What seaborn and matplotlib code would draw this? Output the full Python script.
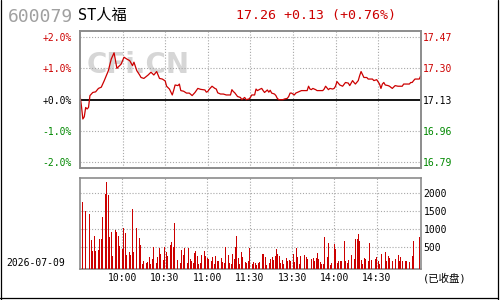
import matplotlib
matplotlib.use("Agg")
import matplotlib.pyplot as plt
import seaborn as sns
import pandas as pd
from matplotlib.lines import Line2D

# ---------------- data ----------------
stock_code = "600079"
stock_name = "ST人福"
date_label = "2026-07-09"
status_label = "(已收盘)"
base_price = 17.13
last_price = 17.26

time_ticks = [30, 60, 90, 120, 150, 180, 210]
time_labels = ["10:00", "10:30", "11:00", "11:30", "13:30", "14:00", "14:30"]
pct_ticks = [-2, -1, 0, 1, 2]
vol_ticks = [500, 1000, 1500, 2000]

price_t = [0, 1, 2, 3, 4, 5, 6, 7, 9, 11, 13, 15, 17, 20, 22, 24, 26, 27, 29, 31,
           33, 35, 37, 38, 40, 42, 43, 45, 48, 50, 52, 54, 56, 58, 60, 61, 63, 65, 66, 67,
           69, 70, 71, 73, 75, 77, 79, 81, 83, 85, 88, 89, 90, 91, 93, 95, 96, 97, 99, 101,
           103, 106, 107, 108, 109, 111, 113, 114, 116, 117, 119, 120, 121, 123, 124, 125, 127, 128, 129, 130,
           132, 133, 134, 135, 137, 138, 139, 140, 143, 144, 146, 147, 148, 149, 151, 152, 153, 154, 156, 158,
           160, 161, 162, 163, 164, 166, 167, 169, 171, 172, 173, 175, 176, 178, 179, 180, 181, 183, 185, 187,
           189, 190, 192, 193, 194, 196, 197, 198, 200, 202, 203, 206, 207, 209, 211, 212, 213, 214, 215, 217,
           218, 220, 222, 224, 225, 227, 228, 230, 232, 233, 234, 235, 236, 239, 240]
price_pct = [0.15, -0.20, -0.62, -0.55, -0.25, -0.30, -0.25, 0.13, 0.23, 0.25, 0.36, 0.40, 0.60, 0.93, 1.30, 1.50, 1.00, 1.05, 1.14, 1.36,
             1.30, 1.25, 1.09, 1.20, 0.93, 0.79, 0.71, 0.68, 0.79, 0.88, 0.79, 0.90, 0.68, 0.66, 0.60, 0.43, 0.34, 0.15, 0.30, 0.47,
             0.45, 0.50, 0.29, 0.27, 0.21, 0.21, 0.13, 0.23, 0.36, 0.33, 0.31, 0.24, 0.26, 0.33, 0.43, 0.36, 0.34, 0.22, 0.18, 0.18,
             0.15, 0.15, 0.32, 0.26, 0.22, 0.10, 0.07, 0.00, 0.07, 0.00, 0.02, 0.07, 0.15, 0.15, 0.34, 0.29, 0.34, 0.36, 0.29, 0.23,
             0.31, 0.24, 0.30, 0.21, 0.18, 0.13, 0.04, 0.00, 0.00, 0.02, 0.04, 0.10, 0.21, 0.21, 0.15, 0.21, 0.23, 0.25, 0.29, 0.29,
             0.29, 0.43, 0.34, 0.32, 0.36, 0.32, 0.29, 0.29, 0.29, 0.34, 0.43, 0.32, 0.36, 0.34, 0.36, 0.43, 0.58, 0.47, 0.43, 0.55,
             0.53, 0.45, 0.61, 0.55, 0.50, 0.61, 0.77, 0.90, 0.71, 0.71, 0.66, 0.66, 0.61, 0.64, 0.50, 0.36, 0.50, 0.55, 0.47, 0.45,
             0.43, 0.36, 0.45, 0.43, 0.43, 0.43, 0.50, 0.50, 0.50, 0.55, 0.55, 0.61, 0.66, 0.66, 0.76]

vol_t = ([0, 2, 4, 5, 7, 8, 9, 10, 11, 12, 13, 14, 15, 16, 17, 18, 19, 20, 21, 22,
          23, 24, 25, 26, 27, 28, 29, 30, 31, 32, 33, 34, 35, 36, 37, 38, 40, 41, 42, 43,
          44, 45, 46, 47, 48, 49, 50, 51, 52, 53, 54, 55, 56, 57, 58, 59, 60, 61, 62, 63,
          64, 65, 66, 67, 69, 70, 71, 72, 73, 74, 75, 76, 77]
         + list(range(78, 158))
         + [159, 160, 161, 162, 164, 165, 166, 167, 168, 169, 170, 171, 172, 173, 174, 175, 176, 177, 178, 179,
            180, 181, 182, 183, 184, 185, 187, 188, 189, 190, 191, 192, 194, 195, 196, 197, 198, 199, 200, 201,
            202, 203, 204, 205, 206, 208, 209, 210, 211, 212, 213, 215, 216, 217, 218, 219, 220, 221, 223, 225,
            226, 227, 228, 230, 231, 232, 233, 235, 236, 237, 240])
vol_v = [277, 1758, 1499, 990, 1425, 712, 406, 805, 406, 527, 434, 730, 730, 1332, 1610, 1980, 2314, 1944, 777, 925,
         249, 341, 990, 925, 805, 527, 1055, 462, 1036, 897, 277, 573, 369, 277, 1573, 369, 1036, 92, 758, 554,
         36, 129, 129, 64, 92, 221, 36, 184, 499, 184, 64, 240, 480, 314, 277, 156, 499, 369, 249, 499,
         573, 647, 499, 1175, 156, 156, 64, 434, 295, 480, 462, 64, 480,
         175, 129, 64, 341, 388, 249, 36, 64, 277, 184, 388, 249, 203, 175, 480, 129, 221, 36, 249, 129,
         129, 129, 203, 92, 64, 499, 249, 277, 64, 36, 314, 175, 499, 805, 203, 36, 369, 231, 175, 92,
         64, 129, 480, 20, 36, 92, 64, 10, 64, 92, 341, 314, 314, 221, 10, 406, 64, 175, 221, 156,
         249, 462, 314, 249, 64, 156, 36, 156, 203, 129, 156, 129, 406, 314, 92, 480, 221, 36, 249, 184,
         277, 221, 184, 64, 175, 203, 110, 203, 341, 175, 92, 36, 36, 777, 156, 231, 619, 18, 64, 92,
         592, 453, 64, 110, 110, 110, 666, 110, 64, 156, 36, 277, 175, 730, 730, 869, 666, 156, 36, 203,
         175, 619, 129, 619, 156, 10, 184, 221, 110, 36, 314, 221, 369, 129, 249, 203, 156, 129, 175, 277,
         110, 231, 110, 110, 129, 64, 92, 249, 666, 10, 777]

# ---------------- style ----------------
RED = "#cc0000"
GREEN = "#008800"
GRID = "#a8a8a8"
FRAME = "#8c8c8c"
sns.set_theme(style="white")
plt.rcParams["font.family"] = ["DejaVu Sans Mono", "Noto Sans CJK SC"]
plt.rcParams["axes.unicode_minus"] = False
FAM = ["DejaVu Sans Mono", "Noto Sans CJK SC"]

fig = plt.figure(figsize=(5, 3), dpi=100)
fig.patch.set_facecolor("white")

ax_p = fig.add_axes([0.16, 0.439, 0.6814, 0.4577])
ax_v = fig.add_axes([0.16, 0.1023, 0.6814, 0.3034])

price_df = pd.DataFrame({"t": price_t, "pct": price_pct})
vol_df = pd.DataFrame({"t": vol_t, "v": vol_v})

# ---- price panel ----
ax_p.text(0.17, 0.755, "CFi.CN", transform=ax_p.transAxes, ha="center", va="center",
          fontsize=20, fontweight="bold", color="#d6d6d6", family="DejaVu Sans", zorder=0)
for t in time_ticks:
    ax_p.axvline(t, color=GRID, lw=0.8, ls=(0, (1, 1.6)), zorder=1)
for p in pct_ticks:
    if p != 0:
        ax_p.axhline(p, color=GRID, lw=0.8, ls=(0, (1, 1.6)), zorder=1)
ax_p.axhline(0, color="black", lw=1.3, zorder=2)
sns.lineplot(data=price_df, x="t", y="pct", ax=ax_p, color=RED, lw=0.9, zorder=3)

ax_p.set_xlim(0, 240)
ax_p.set_ylim(-2.2, 2.2)
ax_p.set_xticks([])
ax_p.set_xlabel("")
ax_p.set_ylabel("")
ax_p.set_yticks(pct_ticks)
ax_p.set_yticklabels([f"{p:+.1f}%" for p in pct_ticks])
colors = [GREEN if p < 0 else ("black" if p == 0 else RED) for p in pct_ticks]
for lab, c in zip(ax_p.get_yticklabels(), colors):
    lab.set_color(c)
ax_p.tick_params(axis="y", length=0, pad=6, labelsize=7)

ax_r = ax_p.twinx()
ax_r.set_ylim(-2.2, 2.2)
ax_r.set_yticks(pct_ticks)
ax_r.set_yticklabels([f"{base_price * (1 + p / 100):.2f}" for p in pct_ticks])
for lab, c in zip(ax_r.get_yticklabels(), colors):
    lab.set_color(c)
ax_r.tick_params(axis="y", length=0, pad=1.5, labelsize=7)
ax_r.grid(False)

for a in (ax_p, ax_r):
    for s in a.spines.values():
        s.set_color(FRAME)
        s.set_linewidth(1.2)

# ---- volume panel ----
vmin, vmax = -111, 2417
for t in time_ticks:
    ax_v.axvline(t, color=GRID, lw=0.8, ls=(0, (1, 1.6)), zorder=1)
for v in vol_ticks:
    ax_v.axhline(v, color=GRID, lw=0.8, ls=(0, (1, 1.6)), zorder=1)
bar_df = vol_df.assign(h=vol_df["v"] - vmin)
sns.barplot(data=bar_df, x="t", y="h", ax=ax_v, native_scale=True, color=RED,
            saturation=1, width=0.6, errorbar=None, bottom=vmin, zorder=3,
            linewidth=0)
ax_v.set_xlim(0, 241)
ax_v.set_ylim(vmin, vmax)
ax_v.set_xlabel("")
ax_v.set_ylabel("")
ax_v.set_xticks(time_ticks)
ax_v.set_xticklabels(time_labels)
ax_v.yaxis.tick_right()
ax_v.set_yticks(vol_ticks)
ax_v.set_yticklabels([str(v) for v in vol_ticks])
ax_v.tick_params(axis="x", length=0, pad=3, labelsize=7, colors="black")
ax_v.tick_params(axis="y", length=0, pad=2, labelsize=7, colors="black")
for s in ax_v.spines.values():
    s.set_color(FRAME)
    s.set_linewidth(1.2)

# ---- texts ----
fig.text(8 / 500, 1 - 17 / 300, stock_code, fontsize=13, color="#a0a0a0",
         family=FAM, ha="left", va="center")
fig.text(78 / 500, 1 - 15 / 300, stock_name, fontsize=11, color="black",
         family=FAM, ha="left", va="center")
chg = last_price - base_price
fig.text(236 / 500, 1 - 15 / 300,
         f"{last_price:.2f} {chg:+.2f} ({chg / base_price * 100:+.2f}%)",
         fontsize=9.5, color=RED, family=FAM, ha="left", va="center")
fig.text(6.5 / 500, 1 - 262.5 / 300, date_label, fontsize=7, color="black",
         family=FAM, ha="left", va="center")
fig.text(423 / 500, 1 - 278 / 300, status_label, fontsize=7.5, color="black",
         family=FAM, ha="left", va="center")

# ---- outer border ----
bw = 0.9
fig.add_artist(Line2D([0.0012, 0.0012], [0, 1], transform=fig.transFigure, color="black", lw=bw))
fig.add_artist(Line2D([0.9966, 0.9966], [0, 1], transform=fig.transFigure, color="black", lw=bw))
fig.add_artist(Line2D([0, 0.9966], [0.0057, 0.0057], transform=fig.transFigure, color="black", lw=bw))

fig.savefig("out.png", dpi=100, facecolor="white")
